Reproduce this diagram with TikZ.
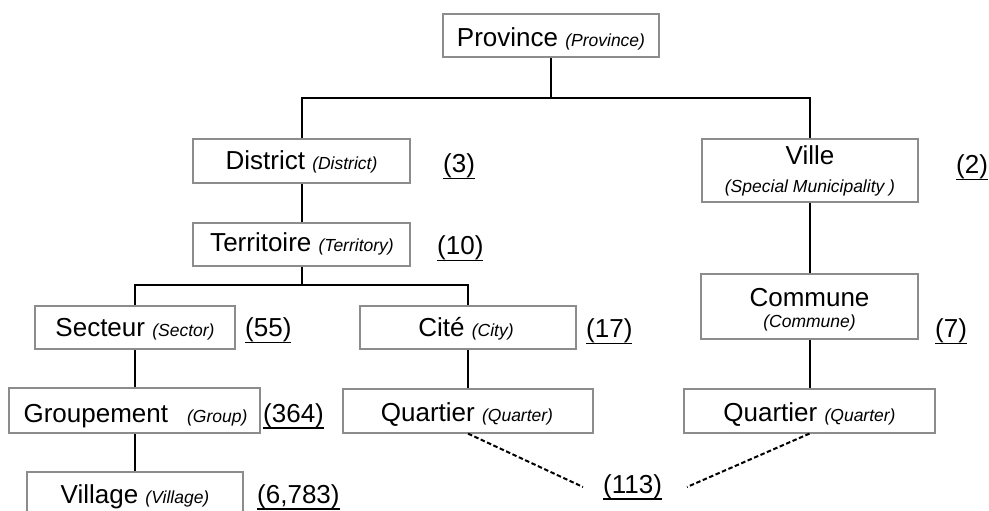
\documentclass[tikz,border=0pt]{standalone}
\usepackage{fontspec}
\setmainfont{Liberation Sans}
\definecolor{boxgray}{RGB}{140,140,140}
% text sizes
\newcommand\mainsz{\fontsize{26bp}{30bp}\selectfont}
\newcommand\sm[1]{{\fontsize{17.5bp}{20bp}\selectfont\itshape #1}}
% underlined count
\newsavebox\ulbox
\newcommand\uln[1]{\sbox\ulbox{#1}\rlap{\rule[-6.5bp]{\wd\ulbox}{1.4bp}}\usebox\ulbox}
\tikzset{
  box/.style={draw=boxgray, line width=1.2bp, rectangle, inner sep=0pt, fill=white},
  txt/.style={anchor=base, inner sep=0pt, font=\mainsz},
  count/.style={anchor=base west, inner sep=0pt, font=\mainsz},
  link/.style={draw=black, line width=1.1bp},
  dashlink/.style={draw=black, line width=2bp, dash pattern=on 4.5bp off 2.5bp},
}
\begin{document}
\begin{tikzpicture}[x=1bp, y=-1bp]
\path[use as bounding box, clip] (0,0) rectangle (989,511);

% junction points of the tree
\coordinate (j1) at (551,98);
\coordinate (j2) at (302,285);

% connectors (drawn first, boxes sit on top)
\draw[link] (551,57) -- (j1);
\draw[link] (302,139) -- (302,98) -- (810,98) -- (810,139);
\draw[link] (302,183) -- (302,223);
\draw[link] (302,266) -- (j2);
\draw[link] (135,306) -- (135,285) -- (468,285) -- (468,306);
\draw[link] (135,349) -- (135,388);
\draw[link] (135,433) -- (135,472);
\draw[link] (468,349) -- (468,389);
\draw[link] (810,202) -- (810,274);
\draw[link] (810,339) -- (810,389);

% boxes
\node[box, minimum width=216bp, minimum height=43bp] (prov)   at (551,35.5)  {};
\node[box, minimum width=217bp, minimum height=44bp] (dist)   at (301.5,161) {};
\node[box, minimum width=217bp, minimum height=43bp] (terr)   at (301.5,244.5) {};
\node[box, minimum width=216bp, minimum height=63bp] (ville)  at (810,170.5) {};
\node[box, minimum width=217bp, minimum height=65bp] (comm)   at (809.5,306.5) {};
\node[box, minimum width=200bp, minimum height=43bp] (sect)   at (135,327.5) {};
\node[box, minimum width=216bp, minimum height=43bp] (cite)   at (468,327.5) {};
\node[box, minimum width=251bp, minimum height=45bp] (grp)    at (134.5,410.5) {};
\node[box, minimum width=250bp, minimum height=44bp] (qmid)   at (468,411) {};
\node[box, minimum width=251bp, minimum height=44bp] (qright) at (809.5,411) {};
\node[box, minimum width=216bp, minimum height=44bp] (vill)   at (135,494) {};

% box texts
\node[txt] (provT)  at (551,47)    {Province \sm{(Province)}};
\node[txt] (distT)  at (301.5,170) {District \sm{(District)}};
\node[txt] (terrT)  at (302,252)   {Territoire \sm{(Territory)}};
\node[txt] (villeT) at (810,165)   {Ville};
\node[txt] (villeS) at (810,193)   {\sm{(Special Municipality )}};
\node[txt] (commT)  at (809.5,307) {Commune};
\node[txt] (commS)  at (809.5,328) {\sm{(Commune)}};
\node[txt] (sectT)  at (135,337)   {Secteur \sm{(Sector)}};
\node[txt] (citeT)  at (466,337)   {Cité \sm{(City)}};
\node[txt] (grpT)   at (135.5,422) {Groupement\hspace{19bp}\sm{(Group)}};
\node[txt] (qmidT)  at (467,421.5) {Quartier \sm{(Quarter)}};
\node[txt] (qrightT) at (809.5,421) {Quartier \sm{(Quarter)}};
\node[txt] (villT)  at (135,503)   {Village \sm{(Village)}};

% counts
\node[count] (n3)    at (443,173) {\uln{(3)}};
\node[count] (n10)   at (437,255) {\uln{(10)}};
\node[count] (n2)    at (956,174) {\uln{(2)}};
\node[count] (n7)    at (935,338) {\uln{(7)}};
\node[count] (n55)   at (245,337) {\uln{(55)}};
\node[count] (n17)   at (586,338) {\uln{(17)}};
\node[count] (n364)  at (263,422) {\uln{(364)}};
\node[count] (n6783) at (257,503) {\uln{(6,783)}};
\node[count] (n113)  at (603,493) {\uln{(113)}};

% dashed links from the two Quartier boxes to their shared count
\coordinate (d1) at (583,487);
\coordinate (d2) at (687,487);
\draw[dashlink] (qmid.south) -- (d1);
\draw[dashlink] (qright.south) -- (d2);
\end{tikzpicture}
\end{document}
